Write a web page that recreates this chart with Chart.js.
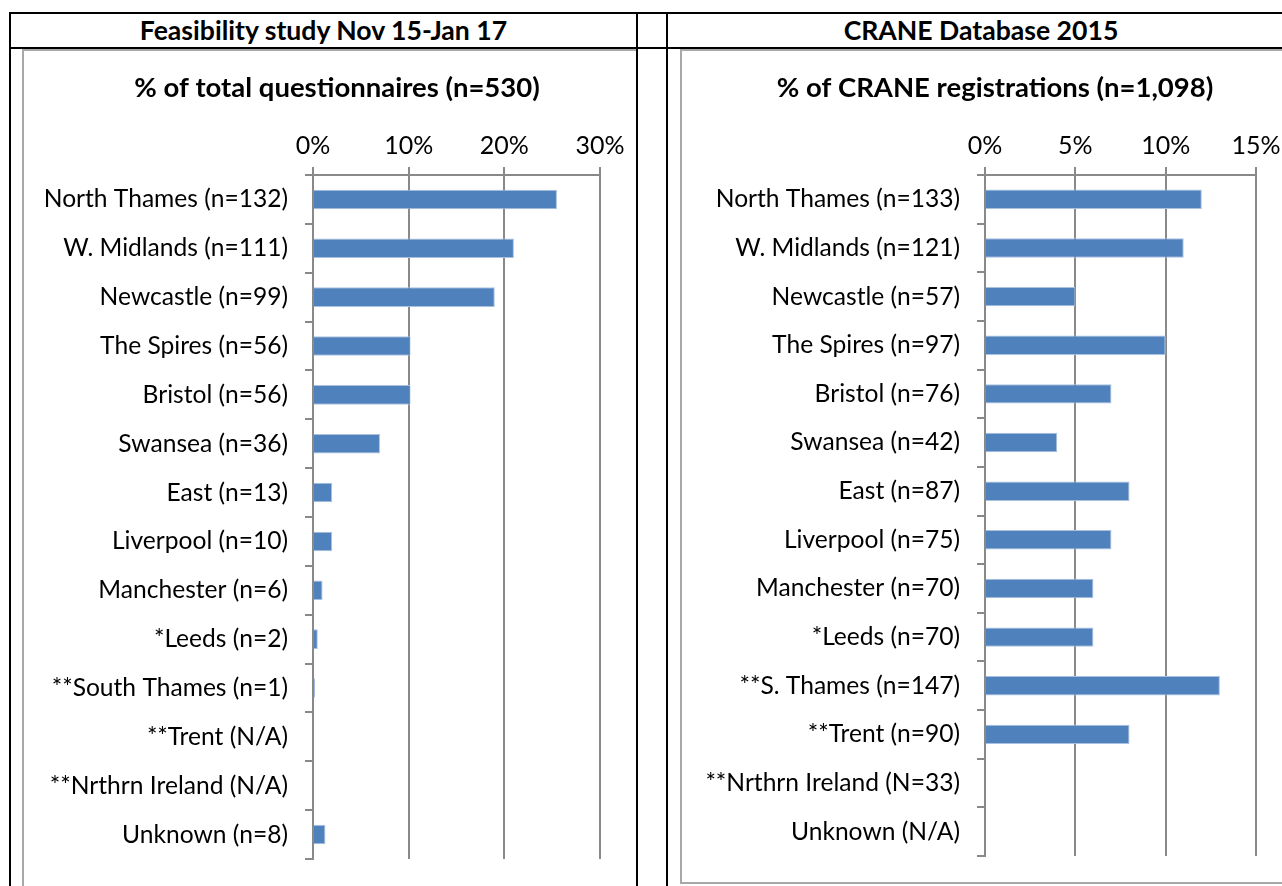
<!DOCTYPE html>
<html>
<head>
<meta charset="utf-8">
<script src="https://cdn.jsdelivr.net/npm/chart.js@4.4.0/dist/chart.umd.min.js"></script>
<style>
    body { margin: 0; width: 1282px; height: 886px; overflow: hidden; background: #fff; font-family: Lato, sans-serif; }
    .line { position: absolute; background: #000; }
    .head { position: absolute; top: 14px; height: 33px; line-height: 33px; text-align: center; font-weight: bold; font-size: 26.6px; color: #000; }
    .clip { position: absolute; top: 49px; height: 837px; overflow: hidden; }
    .frame { position: absolute; top: 0; border: 2px solid #a8a8a8; background: #fff; }
    .frame canvas { display: block; }
</style>
</head>
<body>

<div class="line" style="left:9px; top:12px; width:1273px; height:2px;"></div>
<div class="line" style="left:9px; top:47px; width:1273px; height:2px;"></div>
<div class="line" style="left:9px; top:12px; width:2px; height:874px;"></div>
<div class="line" style="left:636px; top:12px; width:2px; height:874px;"></div>
<div class="line" style="left:666px; top:12px; width:2px; height:874px;"></div>

<div class="head" style="left:11px; width:625px;">Feasibility study Nov 15-Jan 17</div>
<div class="head" style="left:668px; width:626px;">CRANE Database 2015</div>

<div class="clip" style="left:11px; width:625px;">
    <div class="frame" style="left:11px; width:640px; height:850px;">
        <div style="position:relative; width:626px; height:835px;"><canvas id="feasChart"></canvas></div>
    </div>
</div>

<div class="clip" style="left:668px; width:614px;">
    <div class="frame" style="left:12px; width:640px; height:831px;">
        <div style="position:relative; width:626px; height:831px;"><canvas id="craneChart"></canvas></div>
    </div>
</div>

<script>
// Feasibility study Nov 15-Jan 17
const feasLabels = [
    'North Thames (n=132)', 'W. Midlands (n=111)', 'Newcastle (n=99)', 'The Spires (n=56)',
    'Bristol (n=56)', 'Swansea (n=36)', 'East (n=13)', 'Liverpool (n=10)', 'Manchester (n=6)',
    '*Leeds (n=2)', '**South Thames (n=1)', '**Trent (N/A)', '**Nrthrn Ireland (N/A)', 'Unknown (n=8)'
];
const feasValues = [25.5, 21.0, 19.0, 10.2, 10.2, 7.0, 2.0, 2.0, 1.0, 0.5, 0.2, null, null, 1.3];
const feasTicks = [0, 10, 20, 30];

// CRANE Database 2015
const craneLabels = [
    'North Thames (n=133)', 'W. Midlands (n=121)', 'Newcastle (n=57)', 'The Spires (n=97)',
    'Bristol (n=76)', 'Swansea (n=42)', 'East (n=87)', 'Liverpool (n=75)', 'Manchester (n=70)',
    '*Leeds (n=70)', '**S. Thames (n=147)', '**Trent (n=90)', '**Nrthrn Ireland (N=33)', 'Unknown (N/A)'
];
const craneValues = [12.0, 11.0, 5.0, 10.0, 7.0, 4.0, 8.0, 7.0, 6.0, 6.0, 13.0, 8.0, null, null];
const craneTicks = [0, 5, 10, 15];

const BAR_COLOR = '#4F81BD';
const GRID_COLOR = '#898989';
const FONT = 'Lato';

function makeBarChart(id, title, labels, values, ticks, box) {
    const ctx = document.getElementById(id).getContext('2d');
    return new Chart(ctx, {
        type: 'bar',
        data: {
            labels: labels,
            datasets: [{
                data: values,
                backgroundColor: BAR_COLOR,
                borderColor: '#a9c1df',
                borderWidth: 1,
                categoryPercentage: 1,
                barPercentage: 0.4
            }]
        },
        options: {
            indexAxis: 'y',
            responsive: true,
            maintainAspectRatio: false,
            animation: false,
            layout: {
                autoPadding: false,
                padding: { left: 0, right: 0, top: 0, bottom: box.padBottom }
            },
            plugins: {
                legend: { display: false },
                tooltip: { enabled: false },
                title: {
                    display: true,
                    text: title,
                    color: '#000',
                    font: { family: FONT, size: 27.5, weight: 'bold', lineHeight: 1.2 },
                    padding: { top: 21, bottom: 20 }
                }
            },
            scales: {
                x: {
                    position: 'top',
                    min: ticks[0],
                    max: ticks[ticks.length - 1],
                    afterBuildTicks: (scale) => {
                        scale.ticks = ticks.map(v => ({ value: v }));
                    },
                    grid: {
                        color: GRID_COLOR,
                        lineWidth: 2,
                        tickLength: 8
                    },
                    border: { color: GRID_COLOR, width: 2 },
                    ticks: {
                        color: '#000',
                        padding: 6,
                        font: { family: FONT, size: 25 },
                        callback: (value) => value + '%'
                    }
                },
                y: {
                    afterFit: (scale) => { scale.width = box.yWidth; },
                    grid: {
                        drawOnChartArea: false,
                        color: GRID_COLOR,
                        lineWidth: 2,
                        tickLength: 8
                    },
                    border: { color: GRID_COLOR, width: 2 },
                    ticks: {
                        color: '#000',
                        padding: 17,
                        font: { family: FONT, size: 24.6, lineHeight: 0.7 }
                    }
                },
                // empty space on the right so the title stays centred over the whole frame
                yPad: {
                    type: 'linear',
                    position: 'right',
                    afterFit: (scale) => { scale.width = box.padRight; },
                    grid: { display: false },
                    border: { display: false },
                    ticks: { display: false }
                }
            }
        }
    });
}

window.feasChart = makeBarChart('feasChart', '% of total questionnaires (n=530)',
    feasLabels, feasValues, feasTicks,
    { padRight: 50, padBottom: 27, yWidth: 289 });

window.craneChart = makeBarChart('craneChart', '% of CRANE registrations (n=1,098)',
    craneLabels, craneValues, craneTicks,
    { padRight: 52, padBottom: 26, yWidth: 303 });
</script>
</body>
</html>
